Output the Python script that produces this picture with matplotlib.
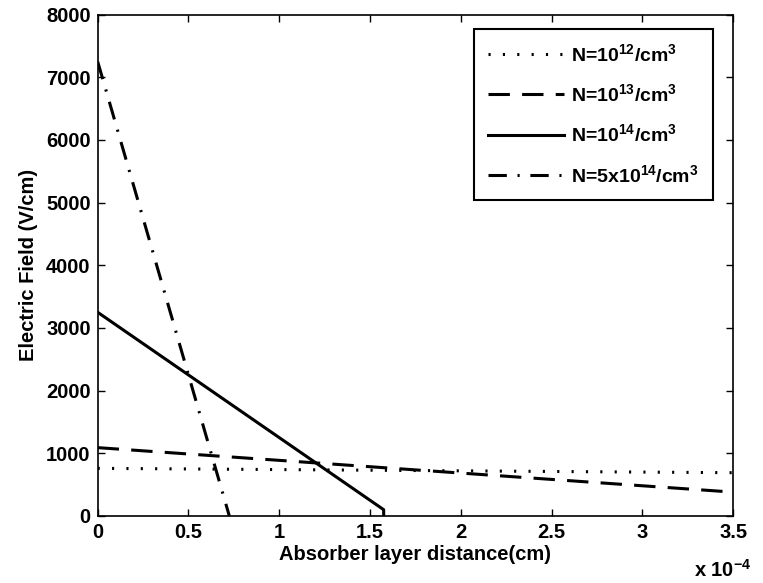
import matplotlib.pyplot as plt
import numpy as np

plt.rcParams['font.family'] = ['Liberation Sans', 'DejaVu Sans']
plt.rcParams['font.weight'] = 'bold'
plt.rcParams['mathtext.fontset'] = 'custom'
plt.rcParams['mathtext.bf'] = 'Liberation Sans:bold'
plt.rcParams['mathtext.rm'] = 'Liberation Sans:bold'
plt.rcParams['mathtext.default'] = 'bf'

# x in units of 1e-4 cm, field in V/cm
x_1e12 = [0, 3.5]
e_1e12 = [760, 690]
x_1e13 = [0, 3.5]
e_1e13 = [1090, 380]
x_1e14 = [0, 1.575, 1.575]
e_1e14 = [3250, 100, 0]
x_5e14 = [0, 0.725]
e_5e14 = [7250, 0]

labels = [r'N=10$^{12}$/cm$^{3}$', r'N=10$^{13}$/cm$^{3}$',
          r'N=10$^{14}$/cm$^{3}$', r'N=5x10$^{14}$/cm$^{3}$']

fig = plt.figure(figsize=(7.63, 5.83), dpi=100)
ax = fig.add_axes([0.128, 0.115, 0.833, 0.86])

lw = 2.2
ax.plot(x_1e12, e_1e12, color='k', lw=lw, linestyle=(0, (0.7, 4.0)), label=labels[0])
ax.plot(x_1e13, e_1e13, color='k', lw=lw, linestyle=(0, (7, 4)), label=labels[1])
ax.plot(x_1e14, e_1e14, color='k', lw=lw, linestyle='-', label=labels[2])
ax.plot(x_5e14, e_5e14, color='k', lw=lw, linestyle=(0, (6, 3.5, 0.7, 3.5)), label=labels[3])

ax.set_xlim(0, 3.5)
ax.set_ylim(0, 8000)
ax.set_xticks(np.arange(0, 3.51, 0.5))
ax.set_xticklabels(['0', '0.5', '1', '1.5', '2', '2.5', '3', '3.5'])
ax.set_yticks(np.arange(0, 8001, 1000))
ax.tick_params(direction='in', top=True, right=True, labelsize=14.5, length=5, width=1, pad=5)
for s in ax.spines.values():
    s.set_linewidth(1.2)

ax.set_xlabel('Absorber layer distance(cm)', fontsize=14.5, fontweight='bold', labelpad=2)
ax.set_ylabel('Electric Field (V/cm)', fontsize=14.5, fontweight='bold', labelpad=6)
fig.text(0.985, 0.003, r'x 10$^{-4}$', ha='right', va='bottom', fontsize=14.5)

leg = ax.legend(loc='upper right', fontsize=14, handlelength=3.9, handletextpad=0.4,
                labelspacing=0.95, borderpad=0.7, fancybox=False, framealpha=1,
                edgecolor='k', bbox_to_anchor=(0.983, 0.99))
leg.get_frame().set_linewidth(1.5)

fig.savefig('out.png', dpi=100)
